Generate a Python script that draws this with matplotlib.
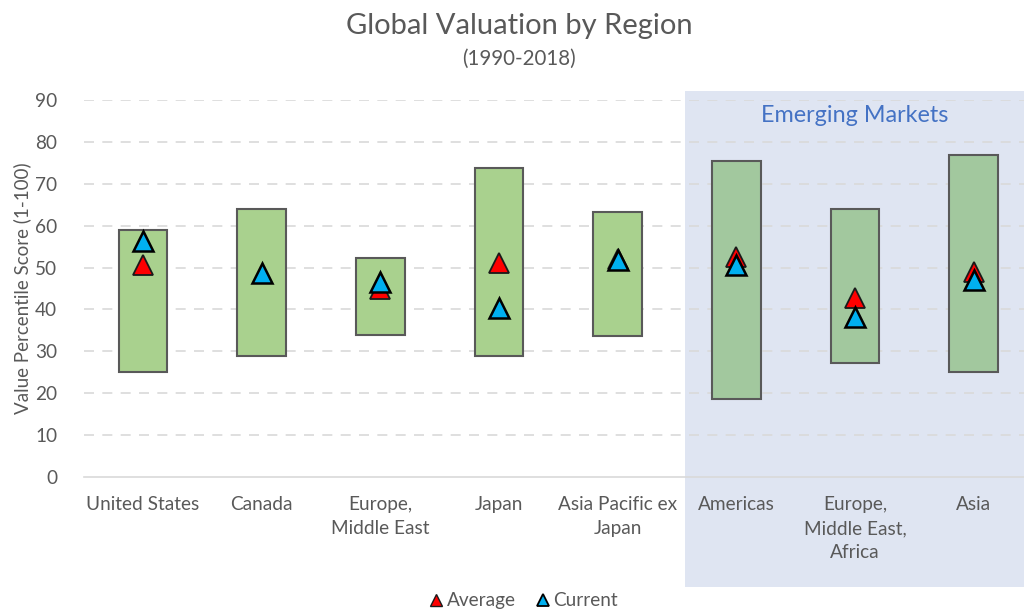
import matplotlib
matplotlib.use('Agg')
import matplotlib.pyplot as plt
from matplotlib.patches import Rectangle
from matplotlib.lines import Line2D

plt.rcParams['font.family'] = ['Lato', 'DejaVu Sans']

# 数据
regions = ['United States', 'Canada', 'Europe,\nMiddle East', 'Japan',
           'Asia Pacific ex\nJapan', 'Americas', 'Europe,\nMiddle East,\nAfrica', 'Asia']
range_low = [25, 29, 34, 29, 33.7, 18.6, 27.3, 25]
range_high = [59, 64, 52.3, 73.7, 63.3, 75.4, 64, 76.8]
average = [50.5, None, 45, 51, 52, 52.5, 42.7, 49]
current = [56.3, 48.8, 46.6, 40.4, 51.8, 50.6, 38.2, 47]
emerging = [False, False, False, False, False, True, True, True]

text_color = '#595959'

fig = plt.figure(figsize=(10.24, 6.1), dpi=100)
ax = fig.add_axes([83.6 / 1024, 133 / 610, 949.3 / 1024, 377 / 610])
ax.set_facecolor('none')

# Emerging Markets 背景
fig.patches.append(Rectangle((685 / 1024, 23 / 610), (1024 - 685) / 1024, (587 - 91) / 610,
                             transform=fig.transFigure, facecolor='#dfe5f2',
                             edgecolor='none', zorder=-1))

x = list(range(len(regions)))
heights = [h - l for h, l in zip(range_high, range_low)]
bar_colors = ['#a2c89e' if e else '#a9d18e' for e in emerging]
ax.bar(x, heights, bottom=range_low, width=0.41, color=bar_colors,
       edgecolor='#595959', linewidth=1.5, zorder=2)

avg_x = [i for i, v in zip(x, average) if v is not None]
avg_y = [v for v in average if v is not None]
ax.plot(avg_x, avg_y, linestyle='none', marker='^', markersize=14,
        markerfacecolor='#ff0000', markeredgecolor='#1a1a1a', markeredgewidth=1.3, zorder=3)
ax.plot(x, current, linestyle='none', marker='^', markersize=14,
        markerfacecolor='#00b0f0', markeredgecolor='#000000', markeredgewidth=1.8, zorder=4)

ax.set_xlim(-0.5, 7.5)
ax.set_ylim(0, 90)
ax.set_yticks(range(0, 100, 10))
ax.set_xticks(x)
ax.set_xticklabels(regions, linespacing=1.5)
ax.tick_params(axis='both', length=0, labelsize=13.7, colors=text_color)
ax.tick_params(axis='x', pad=14)
ax.tick_params(axis='y', pad=19)

for v in range(10, 100, 10):
    ax.axhline(v, color='#d9d9d9', linestyle=(0, (6, 5)), linewidth=1.2, zorder=1)
for s in ['top', 'right', 'left']:
    ax.spines[s].set_visible(False)
ax.spines['bottom'].set_color('#d9d9d9')
ax.spines['bottom'].set_linewidth(1.2)

ax.set_ylabel('Value Percentile Score (1-100)', fontsize=13.5, color=text_color, labelpad=3)

fig.text(0.507, 0.958, 'Global Valuation by Region', ha='center', va='center',
         fontsize=21, color=text_color)
fig.text(0.507, 0.903, '(1990-2018)', ha='center', va='center',
         fontsize=14.8, color=text_color)
ax.text(6, 86.3, 'Emerging Markets', ha='center', va='center', fontsize=16.8, color='#4472c4')

handles = [
    Line2D([], [], linestyle='none', marker='^', markersize=9, markerfacecolor='#ff0000',
           markeredgecolor='#1a1a1a', markeredgewidth=1.0),
    Line2D([], [], linestyle='none', marker='^', markersize=9, markerfacecolor='#00b0f0',
           markeredgecolor='#000000', markeredgewidth=1.3),
]
fig.legend(handles, ['Average', 'Current'], loc='center', bbox_to_anchor=(0.51, 0.015),
           ncol=2, frameon=False, fontsize=13.7, handletextpad=0.05, columnspacing=0.9,
           labelcolor=text_color, handlelength=1.0)

fig.savefig('out.png', dpi=100)
